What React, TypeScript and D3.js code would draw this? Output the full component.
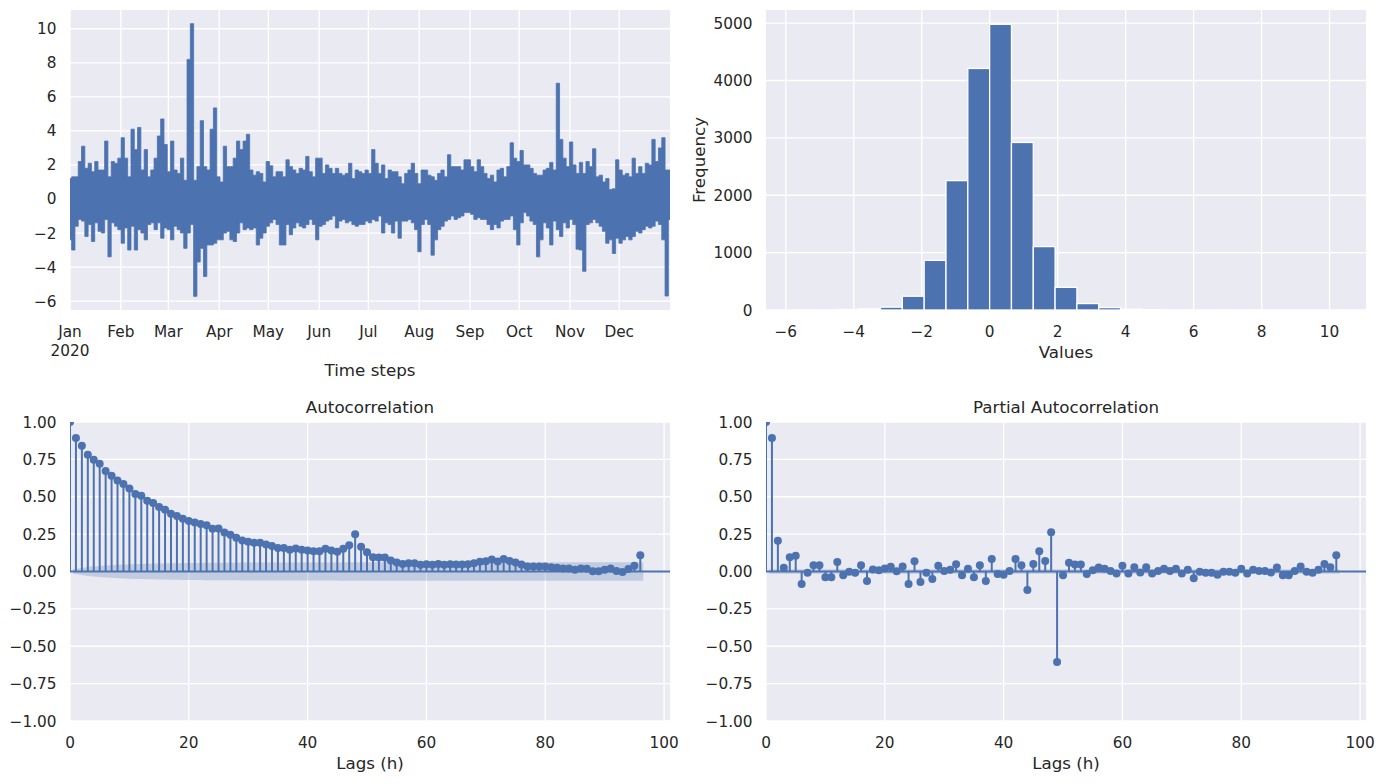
import React from 'react';
import * as d3 from 'd3';

// ---------------- DATA ----------------
const MONTHS = ['Jan', 'Feb', 'Mar', 'Apr', 'May', 'Jun', 'Jul', 'Aug', 'Sep', 'Oct', 'Nov', 'Dec'];
const YEAR = 2020;

// envelope of the half-hourly series, per 2-day block (high / low)
const TS_HIGH = [
  1.2, 1.3, 1.3, 2.2, 3.1, 1.8, 2.1, 1.6, 2.2, 1.7,
  1.7, 3.4, 1.3, 2.2, 2.1, 2.4, 3.6, 2.4, 1.3, 4.1,
  2.9, 4.2, 1.7, 2.9, 1.3, 1.7, 2.4, 3.7, 4.7, 3.2,
  1.6, 3.4, 1.7, 1.5, 2.4, 1.1, 8.2, 10.3, 1.1, 1.9,
  4.6, 1.9, 1.7, 4.1, 5.35, 1.3, 1.0, 3.1, 1.9, 1.9,
  2.4, 3.4, 2.9, 3.4, 3.8, 1.7, 1.4, 1.6, 1.5, 1.0,
  2.2, 1.95, 1.3, 1.6, 1.6, 1.3, 2.3, 1.9, 1.7, 1.5,
  1.8, 1.7, 2.5, 1.6, 1.3, 2.4, 2.4, 1.5, 2.0, 1.8,
  1.5, 1.8, 1.5, 1.4, 1.5, 2.1, 1.2, 1.7, 1.6, 1.5,
  1.7, 1.5, 2.9, 2.1, 1.5, 2.0, 1.2, 1.7, 1.6, 1.6,
  1.3, 0.9, 1.5, 1.7, 2.1, 1.5, 0.9, 1.7, 1.7, 1.4,
  1.3, 1.1, 1.5, 1.7, 1.3, 2.6, 1.9, 1.9, 1.9, 1.7,
  2.3, 2.3, 1.9, 1.6, 2.3, 1.9, 1.5, 1.2, 1.4, 1.0,
  1.7, 1.8, 1.3, 1.9, 3.3, 2.4, 2.2, 2.85, 2.0, 2.0,
  1.8, 1.5, 1.4, 1.4, 1.7, 1.8, 2.15, 1.7, 6.8, 3.5,
  2.4, 1.9, 3.35, 2.0, 1.5, 2.15, 1.5, 2.2, 1.9, 2.95,
  1.3, 1.4, 1.0, 1.2, 0.55, 0.6, 2.3, 1.7, 1.4, 1.5,
  1.3, 2.4, 1.5, 1.9, 1.5, 2.1, 2.0, 3.5, 2.2, 3.0,
  3.6, 1.7, 1.7,
];
const TS_LOW = [
  -2.4, -3.0, -1.6, -1.2, -1.3, -2.2, -1.5, -2.5, -1.4, -1.9,
  -2.0, -1.2, -3.4, -1.4, -1.6, -1.8, -2.6, -1.7, -3.0, -1.6,
  -3.0, -1.8, -2.0, -2.4, -1.5, -1.4, -1.8, -1.4, -2.3, -1.7,
  -1.8, -2.4, -1.6, -1.8, -2.0, -2.9, -2.0, -1.5, -5.72, -3.7,
  -2.9, -4.55, -2.7, -2.7, -2.6, -2.4, -2.4, -2.0, -1.9, -2.4,
  -2.5, -2.0, -1.4, -1.8, -1.7, -1.8, -1.7, -2.7, -2.3, -2.0,
  -1.6, -1.4, -1.2, -1.5, -2.7, -2.7, -1.5, -2.1, -1.7, -1.4,
  -1.6, -1.7, -1.5, -1.2, -1.5, -2.4, -1.6, -1.5, -1.3, -1.2,
  -1.0, -1.7, -1.3, -1.2, -1.4, -1.3, -1.5, -1.6, -1.5, -1.5,
  -1.3, -1.4, -1.2, -1.3, -1.0, -2.0, -1.4, -1.5, -2.0, -1.3,
  -2.3, -1.3, -1.3, -1.2, -1.4, -1.8, -3.1, -1.5, -1.2, -1.5,
  -3.3, -2.4, -1.8, -1.6, -1.3, -1.2, -1.0, -1.2, -1.1, -1.0,
  -0.8, -0.8, -0.9, -1.2, -1.1, -1.2, -1.2, -1.5, -1.8, -1.5,
  -1.7, -1.3, -1.2, -1.2, -1.0, -1.8, -2.7, -1.4, -0.8, -1.0,
  -1.3, -1.5, -3.4, -2.4, -1.4, -1.7, -2.7, -1.3, -1.8, -2.2,
  -1.4, -1.7, -1.2, -1.5, -2.95, -3.0, -4.25, -1.5, -1.4, -1.2,
  -1.4, -1.6, -1.9, -2.6, -2.4, -3.2, -2.3, -2.6, -2.4, -2.2,
  -2.4, -2.2, -1.9, -2.0, -1.8, -1.6, -1.7, -1.6, -1.3, -1.5,
  -2.4, -5.7, -1.2,
];
const TS_Y_TICKS = [-6, -4, -2, 0, 2, 4, 6, 8, 10];

const HIST_RANGE = [-5.78, 10.27];
const HIST_COUNTS = [
  2, 3, 9, 22, 50, 240, 865, 2255, 4210, 4980,
  2920, 1105, 395, 112, 42, 14, 6, 3, 0, 2,
  0, 1, 1, 1, 2,
];
const HIST_X_TICKS = [-6, -4, -2, 0, 2, 4, 6, 8, 10];
const HIST_Y_TICKS = [0, 1000, 2000, 3000, 4000, 5000];

const ACF = [
  1.0, 0.893, 0.841, 0.781, 0.748, 0.721, 0.672, 0.641, 0.609, 0.585, 0.556,
  0.518, 0.507, 0.473, 0.458, 0.431, 0.413, 0.386, 0.371, 0.353, 0.337,
  0.328, 0.317, 0.310, 0.286, 0.288, 0.261, 0.246, 0.225, 0.208, 0.199,
  0.192, 0.192, 0.181, 0.170, 0.158, 0.158, 0.145, 0.154, 0.145, 0.141,
  0.136, 0.136, 0.152, 0.141, 0.132, 0.152, 0.176, 0.250, 0.165, 0.129,
  0.096, 0.094, 0.094, 0.074, 0.060, 0.051, 0.056, 0.056, 0.045, 0.049,
  0.045, 0.051, 0.045, 0.049, 0.047, 0.047, 0.049, 0.056, 0.065, 0.069,
  0.080, 0.067, 0.083, 0.071, 0.060, 0.047, 0.033, 0.033, 0.033, 0.033,
  0.029, 0.025, 0.020, 0.020, 0.011, 0.020, 0.018, 0.002, 0.002, 0.011,
  0.020, 0.004, -0.004, 0.016, 0.038, 0.109,
];
const PACF = [
  1.0, 0.893, 0.205, 0.025, 0.096, 0.105, -0.083, -0.009, 0.042, 0.042, -0.038,
  -0.038, 0.063, -0.025, -0.002, -0.009, 0.042, -0.063, 0.013, 0.009, 0.020,
  0.031, 0.002, 0.033, -0.083, 0.069, -0.071, -0.009, -0.051, 0.038, 0.004,
  0.011, 0.049, -0.025, 0.018, -0.038, 0.042, -0.063, 0.083, -0.016, -0.022,
  0.004, 0.083, 0.042, -0.123, 0.051, 0.136, 0.071, 0.263, -0.605, -0.025,
  0.058, 0.047, 0.047, -0.016, 0.009, 0.027, 0.018, 0.004, -0.013, 0.038,
  -0.013, 0.029, -0.007, 0.029, -0.013, 0.004, 0.018, 0.004, 0.018, -0.013,
  0.011, -0.045, -0.002, -0.009, -0.009, -0.022, -0.002, -0.002, -0.009, 0.018,
  -0.013, 0.011, 0.004, 0.004, -0.007, 0.027, -0.025, -0.025, 0.004, 0.033,
  -0.002, -0.009, 0.011, 0.051, 0.029, 0.109,
];
const N_OBS = 17568;
const CORR_Y_TICKS = [-1, -0.75, -0.5, -0.25, 0, 0.25, 0.5, 0.75, 1];
const LAG_TICKS = [0, 20, 40, 60, 80, 100];

// ---------------- STYLE ----------------
const C0 = '#4C72B0';
const BG = '#EAEAF2';
const TXT = '#262626';
const FONT = "'DejaVu Sans', 'Liberation Sans', sans-serif";
const TICK_FS = 15.3;
const LABEL_FS = 16.7;
const GRID_W = 1.3;

const minus = (s: string) => s.replace(/-/g, '\u2212');

const COL_L = { x0: 70, x1: 670 };
const COL_R = { x0: 766, x1: 1366 };
const ROW_T = { y0: 10, y1: 310 };
const ROW_B = { y0: 422, y1: 721 };

function CorrPanel({ col, values, title, band, id }: { col: { x0: number; x1: number }; values: number[]; title: string; band: number[]; id: string }) {
  const x = d3.scaleLinear().domain([0, 101]).range([col.x0, col.x1]);
  const y = d3.scaleLinear().domain([-1, 1]).range([ROW_B.y1, ROW_B.y0]);
  const lags = values.map((_, i) => i);
  const bandLags = lags.slice(1).map((l, i, arr) => (i === 0 ? l - 0.5 : i === arr.length - 1 ? l + 0.5 : l));
  const bandVals = band.slice(1);
  const area = d3
    .area<number>()
    .x((d) => x(d))
    .y0((_, i) => y(-bandVals[i]))
    .y1((_, i) => y(bandVals[i]));
  const cx = (col.x0 + col.x1) / 2;
  return (
    <g>
      <defs>
        <clipPath id={id}>
          <rect x={col.x0} y={ROW_B.y0} width={col.x1 - col.x0} height={ROW_B.y1 - ROW_B.y0} />
        </clipPath>
      </defs>
      <rect x={col.x0} y={ROW_B.y0} width={col.x1 - col.x0} height={ROW_B.y1 - ROW_B.y0} fill={BG} />
      {LAG_TICKS.map((t) => (
        <line key={'gx' + t} x1={x(t)} x2={x(t)} y1={ROW_B.y0} y2={ROW_B.y1} stroke="#fff" strokeWidth={GRID_W} />
      ))}
      {CORR_Y_TICKS.map((t) => (
        <line key={'gy' + t} x1={col.x0} x2={col.x1} y1={y(t)} y2={y(t)} stroke="#fff" strokeWidth={GRID_W} />
      ))}
      <g clipPath={`url(#${id})`}>
        {values.map((v, i) => (
          <line key={'s' + i} x1={x(i)} x2={x(i)} y1={y(0)} y2={y(v)} stroke={C0} strokeWidth={2} />
        ))}
        <path d={area(bandLags) || ''} fill={C0} fillOpacity={0.25} stroke="none" />
        <line x1={col.x0} x2={col.x1} y1={y(0)} y2={y(0)} stroke={C0} strokeWidth={2} />
        {values.map((v, i) => (
          <circle key={'m' + i} cx={x(i)} cy={y(v)} r={4} fill={C0} />
        ))}
      </g>
      {CORR_Y_TICKS.map((t) => (
        <text key={'ty' + t} x={col.x0 - 13.5} y={y(t)} dy="0.36em" textAnchor="end" fontSize={TICK_FS} fill={TXT} fontFamily={FONT}>
          {minus(d3.format('.2f')(t))}
        </text>
      ))}
      {LAG_TICKS.map((t) => (
        <text key={'tx' + t} x={x(t)} y={ROW_B.y1 + 27.4} textAnchor="middle" fontSize={TICK_FS} fill={TXT} fontFamily={FONT}>
          {t}
        </text>
      ))}
      <text x={cx} y={ROW_B.y0 - 9} textAnchor="middle" fontSize={LABEL_FS} fill={TXT} fontFamily={FONT}>
        {title}
      </text>
      <text x={cx} y={769} textAnchor="middle" fontSize={LABEL_FS} fill={TXT} fontFamily={FONT}>
        Lags (h)
      </text>
    </g>
  );
}

export default function App() {
  // ---- time series (dense line drawn as its high/low envelope, one column per 2-day block) ----
  const tStart = new Date(YEAR, 0, 1, 0, 0);
  const tEnd = new Date(YEAR, 11, 31, 23, 30);
  const xTime = d3.scaleTime().domain([tStart, tEnd]).range([COL_L.x0, COL_L.x1]);
  const allVals = TS_HIGH.concat(TS_LOW);
  const [tsMin, tsMax] = d3.extent(allVals) as [number, number];
  const tsSpan = tsMax - tsMin;
  const yTs = d3.scaleLinear().domain([tsMin - 0.05 * tsSpan, tsMax + 0.05 * tsSpan]).range([ROW_T.y1, ROW_T.y0]);
  const step = (tEnd.getTime() - tStart.getTime()) / (TS_HIGH.length - 1);
  const tsArea = d3
    .area<number>()
    .curve(d3.curveStep)
    .x((_, i) => xTime(new Date(tStart.getTime() + i * step)))
    .y0((_, i) => yTs(TS_LOW[i]))
    .y1((h) => yTs(h));
  const monthTicks = MONTHS.map((m, i) => ({ label: m, date: new Date(YEAR, i, 1) }));

  // ---- histogram ----
  const hSpan = HIST_RANGE[1] - HIST_RANGE[0];
  const binW = hSpan / HIST_COUNTS.length;
  const xHist = d3.scaleLinear().domain([HIST_RANGE[0] - 0.05 * hSpan, HIST_RANGE[1] + 0.05 * hSpan]).range([COL_R.x0, COL_R.x1]);
  const yHist = d3.scaleLinear().domain([0, (d3.max(HIST_COUNTS) as number) * 1.05]).range([ROW_T.y1, ROW_T.y0]);

  // ---- confidence bands ----
  const acfBand = ACF.map((_, k) => {
    if (k === 0) return 0;
    let s = 1;
    for (let j = 1; j < k; j++) s += 2 * ACF[j] * ACF[j];
    return 1.959964 * Math.sqrt(s / N_OBS);
  });
  const pacfBand = PACF.map((_, k) => (k === 0 ? 0 : 1.959964 / Math.sqrt(N_OBS)));

  return (
    <svg width={1382} height={784} style={{ position: 'absolute', left: 0, top: 0, display: 'block', background: '#fff' }}>
      <defs>
        <clipPath id="clip-ts">
          <rect x={COL_L.x0} y={ROW_T.y0} width={COL_L.x1 - COL_L.x0} height={ROW_T.y1 - ROW_T.y0} />
        </clipPath>
        <clipPath id="clip-hist">
          <rect x={COL_R.x0} y={ROW_T.y0} width={COL_R.x1 - COL_R.x0} height={ROW_T.y1 - ROW_T.y0} />
        </clipPath>
      </defs>

      {/* Time series panel */}
      <rect x={COL_L.x0} y={ROW_T.y0} width={COL_L.x1 - COL_L.x0} height={ROW_T.y1 - ROW_T.y0} fill={BG} />
      {monthTicks.map((m) => (
        <line key={'gm' + m.label} x1={xTime(m.date)} x2={xTime(m.date)} y1={ROW_T.y0} y2={ROW_T.y1} stroke="#fff" strokeWidth={GRID_W} />
      ))}
      {TS_Y_TICKS.map((t) => (
        <line key={'gt' + t} x1={COL_L.x0} x2={COL_L.x1} y1={yTs(t)} y2={yTs(t)} stroke="#fff" strokeWidth={GRID_W} />
      ))}
      <g clipPath="url(#clip-ts)">
        <path d={tsArea(TS_HIGH) || ''} fill={C0} stroke={C0} strokeWidth={0.8} strokeLinejoin="miter" />
      </g>
      {TS_Y_TICKS.map((t) => (
        <text key={'tt' + t} x={COL_L.x0 - 13.5} y={yTs(t)} dy="0.36em" textAnchor="end" fontSize={TICK_FS} fill={TXT} fontFamily={FONT}>
          {minus(String(t))}
        </text>
      ))}
      {monthTicks.map((m, i) => (
        <text key={'tm' + m.label} x={xTime(m.date)} y={ROW_T.y1 + 27.4} textAnchor="middle" fontSize={TICK_FS} fill={TXT} fontFamily={FONT}>
          {m.label}
          {i === 0 ? (
            <tspan x={xTime(m.date)} dy={18.4}>
              {String(YEAR)}
            </tspan>
          ) : null}
        </text>
      ))}
      <text x={(COL_L.x0 + COL_L.x1) / 2} y={376} textAnchor="middle" fontSize={LABEL_FS} fill={TXT} fontFamily={FONT}>
        Time steps
      </text>

      {/* Histogram panel */}
      <rect x={COL_R.x0} y={ROW_T.y0} width={COL_R.x1 - COL_R.x0} height={ROW_T.y1 - ROW_T.y0} fill={BG} />
      {HIST_X_TICKS.map((t) => (
        <line key={'ghx' + t} x1={xHist(t)} x2={xHist(t)} y1={ROW_T.y0} y2={ROW_T.y1} stroke="#fff" strokeWidth={GRID_W} />
      ))}
      {HIST_Y_TICKS.map((t) => (
        <line key={'ghy' + t} x1={COL_R.x0} x2={COL_R.x1} y1={yHist(t)} y2={yHist(t)} stroke="#fff" strokeWidth={GRID_W} />
      ))}
      <g clipPath="url(#clip-hist)">
        {HIST_COUNTS.map((c, i) => {
          const a = HIST_RANGE[0] + i * binW;
          const b = a + binW;
          return (
            <rect
              key={'b' + i}
              x={xHist(a)}
              y={yHist(c)}
              width={xHist(b) - xHist(a)}
              height={yHist(0) - yHist(c)}
              fill={C0}
              stroke="#fff"
              strokeWidth={1.3}
            />
          );
        })}
      </g>
      {HIST_Y_TICKS.map((t) => (
        <text key={'thy' + t} x={COL_R.x0 - 13.5} y={yHist(t)} dy="0.36em" textAnchor="end" fontSize={TICK_FS} fill={TXT} fontFamily={FONT}>
          {t}
        </text>
      ))}
      {HIST_X_TICKS.map((t) => (
        <text key={'thx' + t} x={xHist(t)} y={ROW_T.y1 + 27.4} textAnchor="middle" fontSize={TICK_FS} fill={TXT} fontFamily={FONT}>
          {minus(String(t))}
        </text>
      ))}
      <text x={(COL_R.x0 + COL_R.x1) / 2} y={358} textAnchor="middle" fontSize={LABEL_FS} fill={TXT} fontFamily={FONT}>
        Values
      </text>
      <text
        transform={`translate(705, ${(ROW_T.y0 + ROW_T.y1) / 2}) rotate(-90)`}
        textAnchor="middle"
        fontSize={LABEL_FS}
        fill={TXT}
        fontFamily={FONT}
      >
        Frequency
      </text>

      {/* ACF / PACF */}
      <CorrPanel col={COL_L} values={ACF} band={acfBand} title="Autocorrelation" id="clip-acf" />
      <CorrPanel col={COL_R} values={PACF} band={pacfBand} title="Partial Autocorrelation" id="clip-pacf" />
    </svg>
  );
}
